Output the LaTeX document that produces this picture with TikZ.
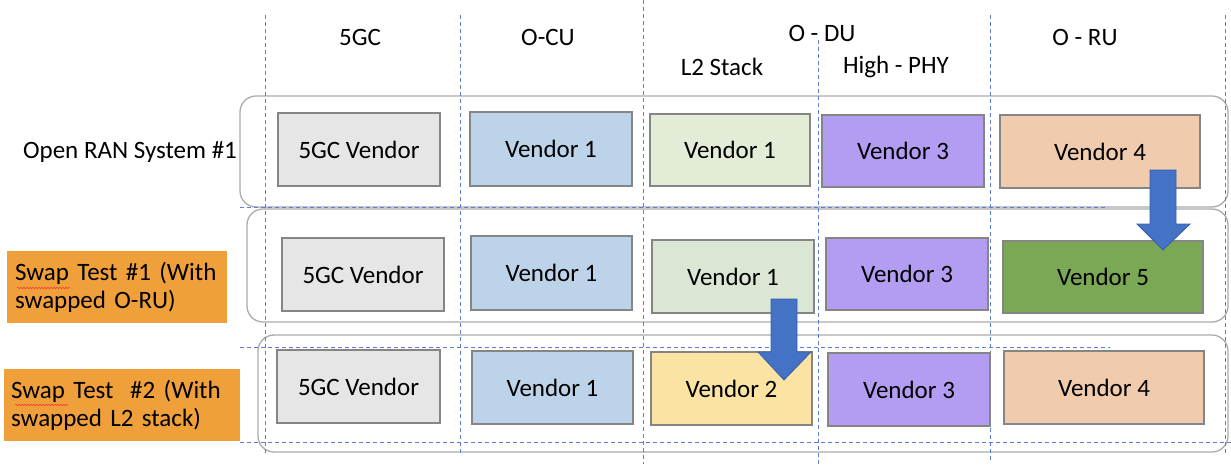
\documentclass[tikz,border=0pt]{standalone}
\usepackage{fontspec}
\setmainfont{Carlito}
\usetikzlibrary{decorations.pathmorphing}
\definecolor{dashblue}{HTML}{5B7FD0}
\definecolor{cgray}{HTML}{E6E6E6}
\definecolor{cblue}{HTML}{BDD3EA}
\definecolor{cgreenl}{HTML}{E2ECD6}
\definecolor{cgreenl2}{HTML}{DCE6D5}
\definecolor{cpurple}{HTML}{B39DF3}
\definecolor{cpeach}{HTML}{F0CBAE}
\definecolor{cgreen}{HTML}{7BA854}
\definecolor{cyellow}{HTML}{FBE4A3}
\definecolor{corange}{HTML}{F0A03A}
\definecolor{carrow}{HTML}{4472C4}
\definecolor{carrowline}{HTML}{3A5FA8}
\definecolor{boxline}{HTML}{858585}
\definecolor{contline}{HTML}{ABABAB}
\tikzset{
  guide/.style={draw=dashblue, line width=0.9pt, dash pattern=on 4pt off 3pt},
  cont/.style={draw=contline, line width=1.3pt, rounded corners=16pt},
  vbox/.style={draw=boxline, line width=1.3pt, minimum height=73pt, inner sep=0pt, font=\fontsize{25}{30}\selectfont},
  head/.style={font=\fontsize{25}{30}\selectfont, inner sep=0pt},
  tag/.style={fill=corange, inner sep=0pt, font=\fontsize{25}{28}\selectfont, align=left},
  blockarrow/.style={fill=carrow, draw=carrowline, line width=0.8pt},
  squig/.style={draw=red!80, line width=0.5pt, decorate, decoration={snake, amplitude=0.8pt, segment length=3pt}}
}
\begin{document}
\begin{tikzpicture}[x=1pt, y=-1pt]
\useasboundingbox (0,0) rectangle (1231,464);
% containers
\draw[cont] (240,96) rectangle (1228,207);
\draw[cont] (247,209) rectangle (1228,322);
\draw[cont] (258,335) rectangle (1228,452);
% guide lines
\draw[guide] (265,15) -- (265,455);
\draw[guide] (460,15) -- (460,455);
\draw[guide] (643,0) -- (643,464);
\draw[guide] (818,40) -- (818,464);
\draw[guide] (990,15) -- (990,460);
\draw[guide] (1225,15) -- (1225,455);
\draw[guide] (240,207) -- (1108,207);
\draw[guide] (240,347) -- (1110,347);
\draw[guide] (240,442) -- (1231,442);
% headers
\node[head] (h5gc) at (360,37) {5GC};
\node[head] (hocu) at (548,37) {O-CU};
\node[head] (hodu) at (822,33) {O - DU};
\node[head] (hl2) at (722,67) {L2 Stack};
\node[head] (hphy) at (896,67) {High - PHY};
\node[head] (hru) at (1085,37) {O - RU};
% row labels
\node[head] (lab1) at (130,152) {Open RAN System \#1};
\node[tag, minimum width=220pt, minimum height=72pt, text width=204pt] (lab2) at (117,287) {Swap Test \#1 (With\\swapped O-RU)};
\node[tag, minimum width=236pt, minimum height=72pt, text width=222pt] (lab3) at (122,405) {Swap Test\ \ \#2 (With\\swapped L2 stack)};
\draw[squig] (17,288) -- (70,288);
\draw[squig] (15,405) -- (68,405);
% row 1
\node[vbox, fill=cgray, minimum width=162pt] (a1) at (359,149.5) {5GC Vendor};
\node[vbox, fill=cblue, minimum width=162pt, minimum height=74pt] (a2) at (551,149) {Vendor 1};
\node[vbox, fill=cgreenl, minimum width=160pt, minimum height=72pt] (a3) at (730,150) {Vendor 1};
\node[vbox, fill=cpurple, minimum width=162pt, minimum height=72pt] (a4) at (903,151) {Vendor 3};
\node[vbox, fill=cpeach, minimum width=200pt] (a5) at (1100,151.5) {Vendor 4};
% row 2
\node[vbox, fill=cgray, minimum width=162pt] (b1) at (363,274.5) {5GC Vendor};
\node[vbox, fill=cblue, minimum width=161pt, minimum height=74pt] (b2) at (551.5,273) {Vendor 1};
\node[vbox, fill=cgreenl2, minimum width=162pt] (b3) at (733,276.5) {Vendor 1};
\node[vbox, fill=cpurple, minimum width=162pt, minimum height=72pt] (b4) at (907,274) {Vendor 3};
\node[vbox, fill=cgreen, minimum width=200pt, minimum height=72pt] (b5) at (1103,277) {Vendor 5};
% row 3
\node[vbox, fill=cgray, minimum width=163pt] (c1) at (358.5,386.5) {5GC Vendor};
\node[vbox, fill=cblue, minimum width=161pt] (c2) at (552.5,387.5) {Vendor 1};
\node[vbox, fill=cyellow, minimum width=161pt] (c3) at (731.5,388.5) {Vendor 2};
\node[vbox, fill=cpurple, minimum width=162pt] (c4) at (909,389.5) {Vendor 3};
\node[vbox, fill=cpeach, minimum width=200pt] (c5) at (1104,387.5) {Vendor 4};
% block arrows
\draw[blockarrow] (1150,170) -- (1176,170) -- (1176,224) -- (1190,224) -- (1163,250) -- (1137,224) -- (1150,224) -- cycle;
\draw[blockarrow] (771,299) -- (797,299) -- (797,352) -- (811,352) -- (784,380) -- (758,352) -- (771,352) -- cycle;
\end{tikzpicture}
\end{document}
